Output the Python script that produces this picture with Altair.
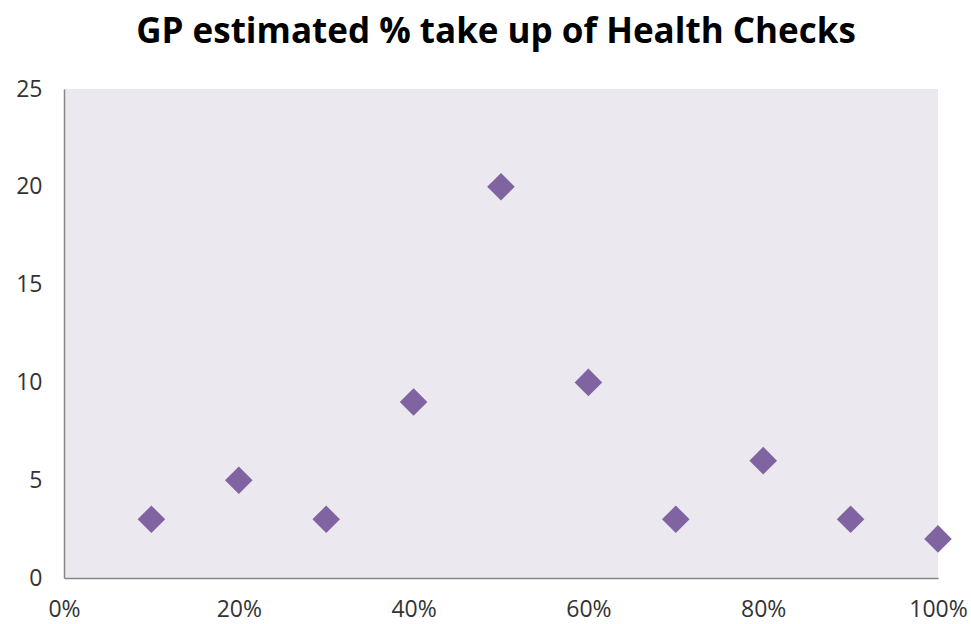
import altair as alt
import pandas as pd

# Estimated take-up (share of eligible patients) and number of GP practices
take_up = [0.1, 0.2, 0.3, 0.4, 0.5, 0.6, 0.7, 0.8, 0.9, 1.0]
practices = [3, 5, 3, 9, 20, 10, 3, 6, 3, 2]
x_ticks = [0, 0.2, 0.4, 0.6, 0.8, 1.0]
y_ticks = [0, 5, 10, 15, 20, 25]

df = pd.DataFrame({"take_up": take_up, "practices": practices})

FONT = "Open Sans"

chart = (
    alt.Chart(df)
    .mark_point(shape="diamond", filled=True, size=760, color="#8064A2", opacity=1)
    .encode(
        x=alt.X(
            "take_up:Q",
            scale=alt.Scale(domain=[0, 1], nice=False, zero=True),
            axis=alt.Axis(
                values=x_ticks,
                format=".0%",
                title=None,
                grid=False,
                ticks=False,
                domainColor="#868686",
                domainWidth=1.5,
                labelFontSize=23,
                labelFont=FONT,
                labelColor="#333333",
                labelPadding=20,
                labelFlush=False,
                labelBound=False,
                labelOverlap=False,
            ),
        ),
        y=alt.Y(
            "practices:Q",
            scale=alt.Scale(domain=[0, 25], nice=False),
            axis=alt.Axis(
                values=y_ticks,
                title=None,
                grid=False,
                ticks=False,
                domainColor="#868686",
                domainWidth=1.5,
                labelFontSize=23,
                labelFont=FONT,
                labelColor="#333333",
                labelPadding=22,
                labelFlush=False,
            ),
        ),
    )
    .properties(
        width=874,
        height=489,
        title=alt.TitleParams(
            "GP estimated % take up of Health Checks",
            fontSize=35,
            font=FONT,
            fontWeight="bold",
            color="#000000",
            anchor="middle",
            offset=28,
            dx=-5,
        ),
        autosize=alt.AutoSizeParams(type="none"),
        padding={"left": 64, "top": 89, "right": 33, "bottom": 46},
        background="white",
    )
    .configure_view(fill="#EBE8EF", stroke=None)
)

chart.save("out.html", embed_options={"renderer": "svg", "actions": False})
